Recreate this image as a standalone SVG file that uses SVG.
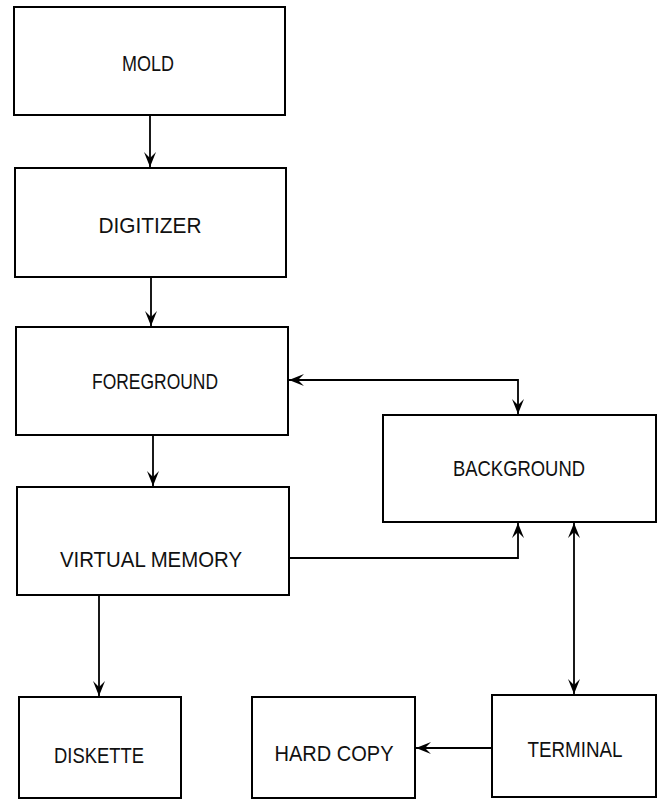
<svg xmlns="http://www.w3.org/2000/svg" width="658" height="800" viewBox="0 0 658 800">
<style>
.box{fill:#fff;stroke:#000;stroke-width:2}
.lbl{font-family:"Liberation Sans",Arial,sans-serif;font-size:22.5px;fill:#111;text-anchor:middle}
.con{fill:none;stroke:#000;stroke-width:1.8}
</style>
<defs>
<marker id="ah" markerUnits="userSpaceOnUse" markerWidth="20" markerHeight="16" viewBox="-16 -8 18 16" refX="0" refY="0" orient="auto-start-reverse">
<path d="M0,0 L-15,-6 L-9,0 L-15,6 Z" fill="#000"/>
</marker>
</defs>
<rect width="658" height="800" fill="#fff"/>
<g id="connectors">
<path class="con" d="M150,115 V167" marker-end="url(#ah)"/>
<path class="con" d="M151,277 V326" marker-end="url(#ah)"/>
<path class="con" d="M153,435 V486" marker-end="url(#ah)"/>
<path class="con" d="M289,380 H518 V414" marker-start="url(#ah)" marker-end="url(#ah)"/>
<path class="con" d="M290,558 H518 V523" marker-end="url(#ah)"/>
<path class="con" d="M574,523 V694" marker-start="url(#ah)" marker-end="url(#ah)"/>
<path class="con" d="M99,595 V696" marker-end="url(#ah)"/>
<path class="con" d="M492,748 H416" marker-end="url(#ah)"/>
</g>
<g id="mold"><rect class="box" x="14" y="7" width="271" height="108"/><text class="lbl" x="148" y="71" textLength="52" lengthAdjust="spacingAndGlyphs">MOLD</text></g>
<g id="digitizer"><rect class="box" x="15" y="168" width="271" height="109"/><text class="lbl" x="150" y="233" textLength="103" lengthAdjust="spacingAndGlyphs">DIGITIZER</text></g>
<g id="foreground"><rect class="box" x="16" y="327" width="272" height="108"/><text class="lbl" x="155" y="389" textLength="126" lengthAdjust="spacingAndGlyphs">FOREGROUND</text></g>
<g id="virtual-memory"><rect class="box" x="17" y="487" width="272" height="108"/><text class="lbl" x="151" y="567" textLength="182" lengthAdjust="spacingAndGlyphs">VIRTUAL MEMORY</text></g>
<g id="background"><rect class="box" x="383" y="415" width="273" height="107"/><text class="lbl" x="519" y="476" textLength="132" lengthAdjust="spacingAndGlyphs">BACKGROUND</text></g>
<g id="diskette"><rect class="box" x="19" y="697" width="162" height="101"/><text class="lbl" x="99" y="763" textLength="90" lengthAdjust="spacingAndGlyphs">DISKETTE</text></g>
<g id="hard-copy"><rect class="box" x="252" y="697" width="163" height="101"/><text class="lbl" x="334" y="761" textLength="119" lengthAdjust="spacingAndGlyphs">HARD COPY</text></g>
<g id="terminal"><rect class="box" x="492" y="695" width="164" height="102"/><text class="lbl" x="575" y="757" textLength="95" lengthAdjust="spacingAndGlyphs">TERMINAL</text></g>
</svg>
